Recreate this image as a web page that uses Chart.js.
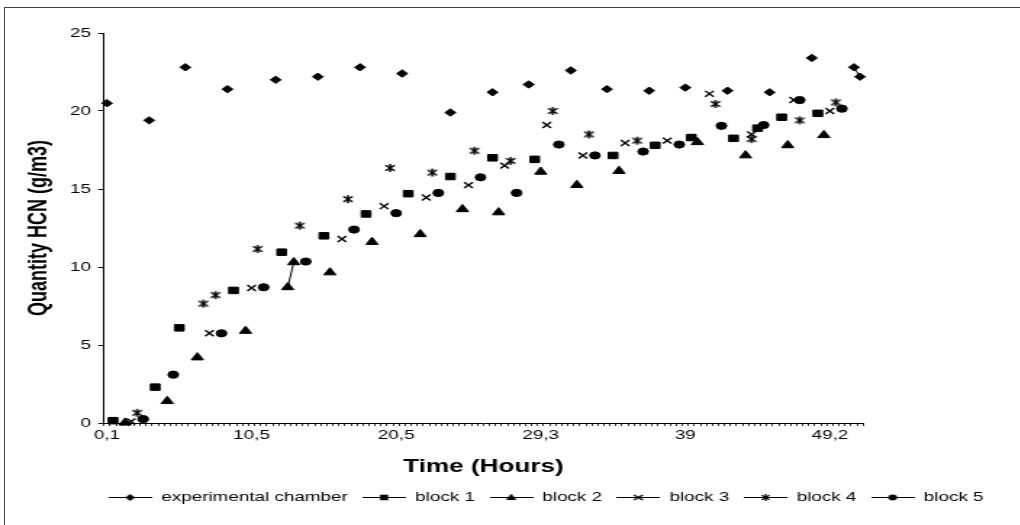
<!DOCTYPE html>
<html>
<head>
<meta charset="utf-8">
<script src="https://cdn.jsdelivr.net/npm/chart.js@4.4.1/dist/chart.umd.min.js"></script>
<style>
  html, body { margin: 0; padding: 0; background: #fff; overflow: hidden; }
  body { width: 1020px; height: 525px; position: relative; }
  #frame { position: absolute; left: 4px; top: 7px; width: 1200px; height: 600px;
           border-left: 1px solid #444; border-top: 1px solid #444; }
  #stretch { position: absolute; left: 0; top: 0; width: 753px; height: 525px;
             transform: scaleX(1.45); transform-origin: 0 0; }
</style>
</head>
<body>
<div id="frame"></div>
<div id="stretch"><canvas id="chart"></canvas></div>
<script>
// Category axis: one category per reading slot, only some get a time label
const categoryCount = 126;
const timeLabels = ['0,1', '10,5', '20,5', '29,3', '39', '49,2'];
const timeLabelAt = [0, 24, 48, 72, 96, 120];

const seriesNames = ['experimental chamber', 'block 1', 'block 2', 'block 3', 'block 4', 'block 5'];

const chamberAt  = [0, 7, 13, 20, 28, 35, 42, 49, 57, 64, 70, 77, 83, 90, 96, 103, 110, 117, 124, 125];
const chamberHCN = [20.5, 19.4, 22.8, 21.4, 22.0, 22.2, 22.8, 22.4, 19.9, 21.2, 21.7, 22.6, 21.4, 21.3, 21.5, 21.3, 21.2, 23.4, 22.8, 22.2];

const block1At  = [1, 8, 12, 21, 29, 36, 43, 50, 57, 64, 71, 84, 91, 97, 104, 108, 112, 118];
const block1HCN = [0.15, 2.3, 6.1, 8.5, 10.95, 12.0, 13.4, 14.7, 15.8, 17.0, 16.9, 17.15, 17.8, 18.3, 18.25, 18.9, 19.6, 19.85];

const block2At  = [3, 10, 15, 23, 30, 31, 37, 44, 52, 59, 65, 72, 78, 85, 98, 106, 113, 119];
const block2HCN = [0.02, 1.4, 4.2, 5.9, 8.7, 10.3, 9.65, 11.6, 12.1, 13.7, 13.5, 16.1, 15.25, 16.15, 18.0, 17.15, 17.8, 18.45];

const block3At  = [4, 17, 24, 39, 46, 53, 60, 66, 73, 79, 86, 93, 100, 107, 114, 120];
const block3HCN = [0.1, 5.75, 8.65, 11.8, 13.9, 14.45, 15.25, 16.5, 19.1, 17.15, 17.95, 18.1, 21.1, 18.5, 20.7, 20.0];

const block4At  = [5, 16, 18, 25, 32, 40, 47, 54, 61, 67, 74, 80, 88, 101, 107, 115, 121];
const block4HCN = [0.65, 7.65, 8.2, 11.15, 12.65, 14.35, 16.35, 16.05, 17.45, 16.8, 20.0, 18.5, 18.1, 20.45, 18.2, 19.4, 20.55];

const block5At  = [6, 11, 19, 26, 33, 41, 48, 55, 62, 68, 75, 81, 89, 95, 102, 109, 115, 122];
const block5HCN = [0.25, 3.1, 5.75, 8.7, 10.35, 12.4, 13.45, 14.75, 15.75, 14.75, 17.85, 17.15, 17.4, 17.85, 19.05, 19.1, 20.7, 20.15];

// layout (canvas units, the canvas is stretched sideways by STRETCH)
const STRETCH = 1.45;
const CANVAS_W = 753;
const PAD_L = 16, PAD_R = 16;
const AREA_LEFT = 104 / STRETCH;
const AREA_RIGHT = 863 / STRETCH;
const CAT_W = (AREA_RIGHT - AREA_LEFT) / categoryCount;

Chart.defaults.font.family = '"Liberation Sans", Arial, sans-serif';
Chart.defaults.color = '#000';

function points(at, vals) {
  return at.map((c, i) => ({ x: c, y: vals[i] }));
}

// Excel only joins markers in neighbouring categories
const joinNeighbours = ctx => (ctx.p1.parsed.x - ctx.p0.parsed.x > 1 ? 'rgba(0,0,0,0)' : '#000');

function drawShape(g, shape, x, y, r) {
  g.beginPath();
  if (shape === 'diamond') {
    g.moveTo(x, y - r); g.lineTo(x + r, y); g.lineTo(x, y + r); g.lineTo(x - r, y); g.closePath(); g.fill();
  } else if (shape === 'square') {
    g.rect(x - r, y - r, 2 * r, 2 * r); g.fill();
  } else if (shape === 'triangle') {
    g.moveTo(x, y - r * 1.1); g.lineTo(x + r, y + r * 0.7); g.lineTo(x - r, y + r * 0.7); g.closePath(); g.fill();
  } else if (shape === 'circle') {
    g.arc(x, y, r, 0, Math.PI * 2); g.fill();
  } else if (shape === 'cross') {
    g.moveTo(x - r, y - r * 0.8); g.lineTo(x + r, y + r * 0.8);
    g.moveTo(x + r, y - r * 0.8); g.lineTo(x - r, y + r * 0.8); g.stroke();
  } else if (shape === 'star') {
    g.moveTo(x - r * 0.8, y - r * 0.7); g.lineTo(x + r * 0.8, y + r * 0.7);
    g.moveTo(x + r * 0.8, y - r * 0.7); g.lineTo(x - r * 0.8, y + r * 0.7);
    g.moveTo(x, y - r); g.lineTo(x, y + r); g.stroke();
  }
}

function starMarker() {
  const c = document.createElement('canvas');
  c.width = 10; c.height = 10;
  const g = c.getContext('2d');
  g.strokeStyle = '#000'; g.lineWidth = 1.5;
  drawShape(g, 'star', 5, 5, 4);
  return c;
}

function legendSymbol(shape) {
  const c = document.createElement('canvas');
  c.width = 30; c.height = 12;
  const g = c.getContext('2d');
  g.strokeStyle = '#000'; g.fillStyle = '#000'; g.lineWidth = 1;
  g.beginPath(); g.moveTo(0, 6.5); g.lineTo(30, 6.5); g.stroke();
  g.lineWidth = 1.3;
  const r = { diamond: 3.4, square: 2.8, triangle: 3.6, cross: 3, star: 3.4, circle: 3 }[shape];
  drawShape(g, shape, 15, 6.5, r);
  return c;
}

const legendShapes = ['diamond', 'square', 'triangle', 'cross', 'star', 'circle'];

function series(i, at, vals, style, radius, border) {
  return {
    label: seriesNames[i],
    data: points(at, vals),
    showLine: true,
    fill: false,
    borderColor: '#000',
    borderWidth: 1,
    segment: { borderColor: joinNeighbours },
    pointStyle: style,
    pointRadius: radius,
    pointBackgroundColor: '#000',
    pointBorderColor: '#000',
    pointBorderWidth: border,
    clip: false,
  };
}

new Chart(document.getElementById('chart'), {
  type: 'line',
  data: {
    datasets: [
      series(0, chamberAt, chamberHCN, 'rectRot', 3.7, 1),
      series(1, block1At, block1HCN, 'rect', 4.6, 1),
      series(2, block2At, block2HCN, 'triangle', 4.8, 1),
      series(3, block3At, block3HCN, 'crossRot', 4.2, 1.4),
      series(4, block4At, block4HCN, starMarker(), 4, 1),
      series(5, block5At, block5HCN, 'circle', 3.6, 1),
    ],
  },
  options: {
    responsive: true,
    maintainAspectRatio: false,
    animation: false,
    events: [],
    layout: { padding: { left: PAD_L, right: PAD_R, top: 33, bottom: 11.5 } },
    plugins: {
      tooltip: { enabled: false },
      legend: {
        position: 'bottom',
        labels: {
          usePointStyle: true,
          pointStyleWidth: 30,
          padding: 10,
          color: '#000',
          font: { size: 13 },
          generateLabels: () => seriesNames.map((name, i) => ({
            text: name,
            fillStyle: '#000',
            strokeStyle: '#000',
            lineWidth: 0,
            pointStyle: legendSymbol(legendShapes[i]),
            hidden: false,
            datasetIndex: i,
            fontColor: '#000',
          })),
        },
      },
    },
    scales: {
      x: {
        type: 'linear',
        min: -0.5,
        max: categoryCount - 0.5,
        afterBuildTicks: s => {
          s.ticks = Array.from({ length: categoryCount + 1 }, (_, k) => ({ value: k - 0.5 }));
        },
        afterFit: s => { s.height = 57.5; },
        border: { display: true, color: '#000', width: 1 },
        grid: { display: true, drawOnChartArea: false, drawTicks: true, tickLength: 3, color: '#000', lineWidth: 0.8 },
        ticks: {
          autoSkip: false, maxRotation: 0, minRotation: 0, padding: 2,
          labelOffset: CAT_W / 2,
          font: { size: 13 },
          callback: v => {
            const i = timeLabelAt.indexOf(Math.round(v + 0.5));
            return i < 0 ? '' : timeLabels[i];
          },
        },
        title: { display: true, text: 'Time (Hours)', font: { size: 18, weight: 'bold' }, padding: 3 },
      },
      y: {
        type: 'linear',
        min: 0,
        max: 25,
        afterFit: s => { s.width = AREA_LEFT - PAD_L; },
        border: { display: true, color: '#000', width: 1 },
        grid: { drawOnChartArea: false, tickLength: 4, color: '#000' },
        ticks: { stepSize: 5, padding: 5, font: { size: 13 } },
        title: { display: true, text: 'Quantity HCN (g/m3)', font: { size: 18, weight: 'bold' }, padding: 0 },
      },
      yRight: {
        type: 'linear',
        position: 'right',
        display: true,
        afterFit: s => { s.width = CANVAS_W - PAD_R - AREA_RIGHT; },
        grid: { display: false },
        border: { display: false },
        ticks: { display: false },
      },
    },
  },
});
</script>
</body>
</html>
